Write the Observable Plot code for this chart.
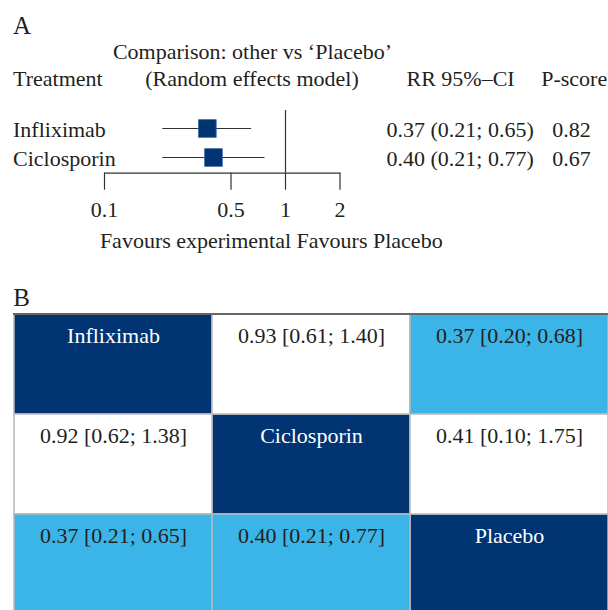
<!DOCTYPE html>
<html>
<head>
<meta charset="utf-8">
<script src="https://cdn.jsdelivr.net/npm/d3@7"></script>
<script src="https://cdn.jsdelivr.net/npm/@observablehq/plot@0.6"></script>
<style>
  html, body { margin: 0; padding: 0; background: #fff; overflow: hidden; }
  #chart svg { display: block; }
</style>
</head>
<body>
<div id="chart"></div>
<script>
// ---- Panel A: forest plot data (comparison vs Placebo) ----
const treatments = ["Infliximab", "Ciclosporin"];
const rrValues = [0.37, 0.40];
const rrLower = [0.21, 0.21];
const rrUpper = [0.65, 0.77];
const pScores = [0.82, 0.67];
const axisTicks = [0.1, 0.5, 1, 2];
const headerTitle = "Comparison: other vs ‘Placebo’";
const headerModel = "(Random effects model)";
const headerTreatment = "Treatment";
const headerRR = "RR 95%–CI";
const headerP = "P-score";
const axisLabel = "Favours experimental Favours Placebo";

// ---- Panel B: league table data ----
const leagueNames = ["Infliximab", "Ciclosporin", "Placebo"];
const leagueRow = [0, 0, 1, 1, 2, 2];
const leagueCol = [1, 2, 0, 2, 0, 1];
const leagueRR = [0.93, 0.37, 0.92, 0.41, 0.37, 0.40];
const leagueLo = [0.61, 0.20, 0.62, 0.10, 0.21, 0.21];
const leagueHi = [1.40, 0.68, 1.38, 1.75, 0.65, 0.77];

const NAVY = "#003473";
const LIGHT = "#3bb5e7";
const INK = "#231f20";
const FONT = "'Liberation Serif', 'Times New Roman', serif";
const FS = 22;
const f2 = d3.format(".2f");

const forest = treatments.map((name, i) => ({
  name, rr: rrValues[i], lo: rrLower[i], hi: rrUpper[i], p: pScores[i]
}));

const T = { fontSize: FS, fill: INK, lineAnchor: "middle" };

const plotA = Plot.plot({
  width: 608,
  height: 280,
  marginLeft: 104,
  marginRight: 268.5,
  marginTop: 110,
  marginBottom: 107.3,
  style: { fontFamily: FONT, background: "white", color: INK, overflow: "visible" },
  x: { type: "log", domain: [0.1, 2], axis: null },
  y: { type: "point", domain: treatments, range: [128, 157], padding: 0, axis: null },
  marks: [
    Plot.frame({ anchor: "bottom", stroke: "#333", strokeWidth: 1.2 }),
    Plot.ruleX([1], { stroke: "#333", strokeWidth: 1.2 }),
    Plot.axisX({
      ticks: axisTicks, tickSize: 17, tickPadding: 11,
      tickFormat: d3.format("~g"), fontSize: FS, stroke: "#333", strokeWidth: 1.2,
      fill: INK, label: null
    }),
    Plot.ruleY(forest, { y: "name", x1: "lo", x2: "hi", stroke: "#333", strokeWidth: 1.2 }),
    Plot.dot(forest, { x: "rr", y: "name", symbol: "square", r: 10, fill: NAVY, stroke: "#3d62a0", strokeWidth: 0.8 }),
    // row labels and values
    Plot.text(forest, { ...T, y: "name", text: "name", frameAnchor: "left", textAnchor: "start", dx: -91.5, dy: 1 }),
    Plot.text(forest, { ...T, y: "name", text: d => `${f2(d.rr)} (${f2(d.lo)}; ${f2(d.hi)})`, frameAnchor: "right", textAnchor: "start", dx: 46.5, dy: 1 }),
    Plot.text(forest, { ...T, y: "name", text: d => f2(d.p), frameAnchor: "right", textAnchor: "start", dx: 212.2, dy: 1 }),
    // headers
    Plot.text(["A"], { ...T, fontSize: 25, frameAnchor: "top-left", textAnchor: "start", dx: -91.5, dy: -84.7 }),
    Plot.text([headerTitle], { ...T, frameAnchor: "top-left", textAnchor: "middle", dx: 148, dy: -59 }),
    Plot.text([headerTreatment], { ...T, frameAnchor: "top-left", textAnchor: "start", dx: -91.5, dy: -32 }),
    Plot.text([headerModel], { ...T, frameAnchor: "top-left", textAnchor: "middle", dx: 147.5, dy: -32 }),
    Plot.text([headerRR], { ...T, frameAnchor: "top-right", textAnchor: "start", dx: 66.5, dy: -32 }),
    Plot.text([headerP], { ...T, frameAnchor: "top-right", textAnchor: "start", dx: 201.2, dy: -32 }),
    Plot.text([axisLabel], { ...T, frameAnchor: "bottom", textAnchor: "middle", dx: 49, dy: 67.6 })
  ]
});

// league table cells
const cells = [];
leagueNames.forEach((n) => cells.push({ row: n, col: n, text: n, kind: "diag" }));
leagueRow.forEach((r, k) => {
  const lo = leagueLo[k], hi = leagueHi[k];
  cells.push({
    row: leagueNames[r], col: leagueNames[leagueCol[k]],
    text: `${f2(leagueRR[k])} [${f2(lo)}; ${f2(hi)}]`,
    kind: (hi < 1 || lo > 1) ? "sig" : "ns"
  });
});

const plotB = Plot.plot({
  width: 608,
  height: 335,
  marginLeft: 13.5,
  marginRight: 0,
  marginTop: 33.5,
  marginBottom: 0,
  style: { fontFamily: FONT, background: "white", color: INK, overflow: "visible" },
  x: { type: "band", domain: leagueNames, padding: 0, axis: null },
  y: { type: "band", domain: leagueNames, padding: 0, axis: null },
  color: { domain: ["diag", "sig", "ns"], range: [NAVY, LIGHT, "#ffffff"] },
  marks: [
    Plot.cell(cells, { x: "col", y: "row", fill: "kind", stroke: "#b8b8b8", strokeWidth: 1.5 }),
    Plot.frame({ anchor: "top", stroke: "#666", strokeWidth: 2 }),
    Plot.text(cells, {
      ...T, x: "col", y: "row", text: "text", dy: -29,
      fill: d => d.kind === "diag" ? "#ffffff" : INK
    }),
    Plot.text(["B"], { ...T, fontSize: 25, frameAnchor: "top-left", textAnchor: "start", dx: -0.8, dy: -16.5 })
  ]
});

const root = document.getElementById("chart");
root.appendChild(plotA);
root.appendChild(plotB);
</script>
</body>
</html>
